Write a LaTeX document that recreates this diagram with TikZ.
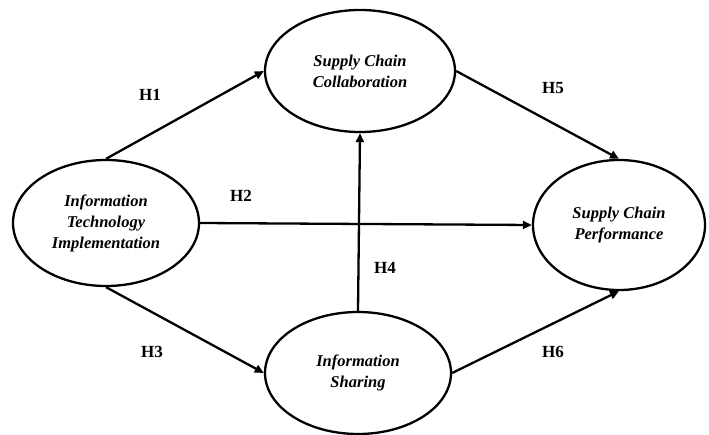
\documentclass[tikz,border=0pt]{standalone}
\usepackage{fontspec}
\setmainfont{Liberation Serif}
\usetikzlibrary{shapes.geometric,arrows.meta}
\begin{document}
\begin{tikzpicture}[x=1pt,y=-1pt,
  construct/.style={ellipse,draw,line width=2.3pt,inner sep=0pt,align=center,
    font=\fontsize{16.5}{21}\selectfont\bfseries\itshape},
  link/.style={line width=2.3pt,-{Triangle[length=9pt,width=8pt]}},
  hyp/.style={font=\fontsize{17}{20}\selectfont\bfseries}]
\useasboundingbox (0,0) rectangle (709,435);
\node[construct,minimum width=186pt,minimum height=126pt] (iti) at (106,223) {Information\\Technology\\Implementation};
\node[construct,minimum width=190pt,minimum height=122pt] (scc) at (360,71) {Supply Chain\\Collaboration};
\node[construct,minimum width=172pt,minimum height=130pt] (scp) at (619,225) {Supply Chain\\Performance};
\node[construct,minimum width=186pt,minimum height=122pt] (is) at (358,373) {Information\\Sharing};
\draw[link] (iti.north) -- (scc.west);
\draw[link] (iti.east) -- (scp.west);
\draw[link] (iti.south) -- (is.west);
\draw[link] (is.north) -- (scc.south);
\draw[link] (scc.east) -- (scp.north);
\draw[link] (is.east) -- (scp.south);
\node[hyp] (h1) at (150,95) {H1};
\node[hyp] (h2) at (241,196) {H2};
\node[hyp] (h3) at (152,352) {H3};
\node[hyp] (h4) at (385,268) {H4};
\node[hyp] (h5) at (553,88) {H5};
\node[hyp] (h6) at (553,352) {H6};
\end{tikzpicture}
\end{document}
